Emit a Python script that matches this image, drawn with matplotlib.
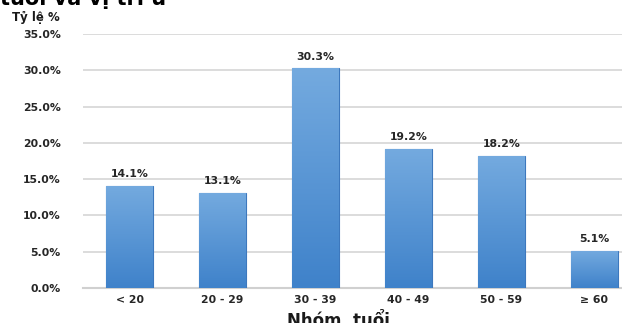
import numpy as np
import matplotlib
matplotlib.use("Agg")
import matplotlib.pyplot as plt
from matplotlib.colors import LinearSegmentedColormap

# data
categories = ["< 20", "20 - 29", "30 - 39", "40 - 49", "50 - 59", "\u2265 60"]
values = [14.1, 13.1, 30.3, 19.2, 18.2, 5.1]
yticks = [0, 5, 10, 15, 20, 25, 30, 35]

plt.rcParams['font.family'] = ['DejaVu Sans']

fig = plt.figure(figsize=(6.22, 3.23), dpi=100)
ax = fig.add_axes([83 / 622, 35 / 323, 558 / 622, 254 / 323])

x = np.arange(len(categories))
bars = ax.bar(x, values, width=0.5, color="#5596d6",
              edgecolor="#3d78bd", linewidth=0.8, zorder=3)

# vertical gradient fill, clipped to each bar
grad = LinearSegmentedColormap.from_list("g", ["#3f82ca", "#74aadf"])
for b in bars:
    x0, y0 = b.get_x(), b.get_y()
    w, h = b.get_width(), b.get_height()
    im = ax.imshow(np.linspace(0, 1, 100).reshape(-1, 1), cmap=grad,
                   extent=[x0, x0 + w, y0, y0 + h], origin="lower",
                   aspect="auto", zorder=3.5)
    im.set_clip_path(b)

for xi, v in zip(x, values):
    ax.text(xi, v + 0.9, f"{v:.1f}%", ha="center", va="bottom",
            fontsize=7.8, fontweight="bold", color="#262626")

ax.set_xlim(-0.5, len(categories) - 0.5)
ax.set_ylim(0, 35)
ax.set_yticks(yticks)
ax.set_yticklabels([f"{t:.1f}%" for t in yticks])
ax.set_xticks(x)
ax.set_xticklabels(categories)
ax.tick_params(axis="both", length=0, labelsize=7.8, labelcolor="#262626")
ax.tick_params(axis="y", pad=16)
ax.tick_params(axis="x", pad=5)
for lab in ax.get_xticklabels() + ax.get_yticklabels():
    lab.set_fontweight("bold")

ax.grid(axis="y", color="#d9d9d9", linewidth=1.3, zorder=0)
ax.set_axisbelow(True)
for s in ["top", "right", "left"]:
    ax.spines[s].set_visible(False)
ax.spines["bottom"].set_color("#d0d0d0")
ax.spines["bottom"].set_linewidth(1.5)

fig.text(12 / 622, 1 - 18 / 323, "Tỷ lệ %", fontsize=8.5, fontweight="bold",
         color="#1a1a1a", va="center", ha="left")
fig.text(338 / 622, 1 - 321 / 323, "Nhóm  tuổi", fontsize=12,
         fontweight="bold", color="#1a1a1a", va="center", ha="center")
# title cut off at the top edge of the image
fig.text(0, 1 - 5 / 323, "tuổi và vị trí ư", fontsize=15, fontweight="bold",
         color="#000000", va="baseline", ha="left")

fig.savefig("out.png", dpi=100)
